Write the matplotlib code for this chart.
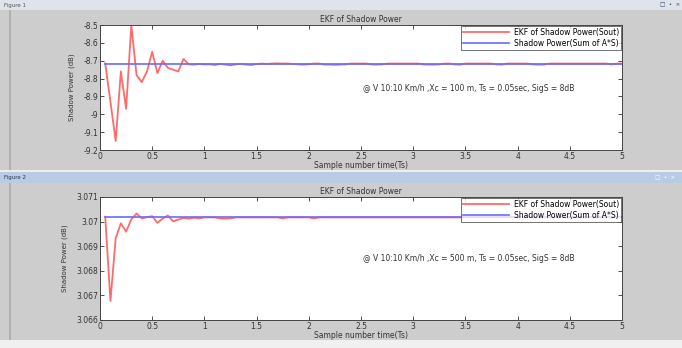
import numpy as np
import matplotlib
matplotlib.use("Agg")
import matplotlib.pyplot as plt
from matplotlib.patches import Rectangle

# DATA

Ts = 0.05
n_samples = 100

ekf_fig1 = [
    -8.715, -8.93, -9.15, -8.76, -8.97, -8.50, -8.78, -8.82, -8.76, -8.65,
    -8.77, -8.70, -8.74, -8.75, -8.76, -8.69, -8.72, -8.722, -8.718, -8.721,
    -8.720, -8.724, -8.718, -8.722, -8.726, -8.721, -8.718, -8.722, -8.724, -8.719,
    -8.716, -8.718, -8.716, -8.715, -8.716, -8.716, -8.718, -8.721, -8.722, -8.720,
    -8.716, -8.716, -8.722, -8.722, -8.723, -8.722, -8.721, -8.716, -8.716, -8.716,
    -8.716, -8.721, -8.722, -8.721, -8.716, -8.716, -8.716, -8.716, -8.716, -8.716,
    -8.716, -8.721, -8.722, -8.722, -8.721, -8.716, -8.716, -8.721, -8.722, -8.716,
    -8.716, -8.716, -8.716, -8.716, -8.716, -8.721, -8.722, -8.716, -8.716, -8.716,
    -8.716, -8.716, -8.721, -8.722, -8.722, -8.716, -8.716, -8.716, -8.716, -8.716,
    -8.716, -8.716, -8.716, -8.716, -8.716, -8.716, -8.716, -8.721, -8.716, -8.716,
]
shadow_fig1 = -8.716

ekf_fig2 = [
    3.07020, 3.06677, 3.06932, 3.06993, 3.06959, 3.07009, 3.07033, 3.07013, 3.07018, 3.07022,
    3.06995, 3.07012, 3.07025, 3.07001, 3.07008, 3.07015, 3.07012, 3.07016, 3.07013, 3.07017,
    3.07017, 3.07017, 3.07013, 3.07012, 3.07013, 3.07017, 3.07017, 3.07017, 3.07017, 3.07017,
    3.07017, 3.07017, 3.07017, 3.07017, 3.07013, 3.07017, 3.07017, 3.07017, 3.07017, 3.07017,
    3.07013, 3.07017, 3.07017, 3.07017, 3.07017, 3.07017, 3.07017, 3.07017, 3.07017, 3.07017,
    3.07017, 3.07017, 3.07017, 3.07017, 3.07017, 3.07017, 3.07017, 3.07017, 3.07017, 3.07017,
    3.07017, 3.07017, 3.07017, 3.07017, 3.07017, 3.07017, 3.07017, 3.07017, 3.07017, 3.07017,
    3.07017, 3.07017, 3.07017, 3.07017, 3.07017, 3.07017, 3.07017, 3.07017, 3.07017, 3.07017,
    3.07017, 3.07017, 3.07017, 3.07017, 3.07017, 3.07017, 3.07017, 3.07017, 3.07017, 3.07017,
    3.07017, 3.07017, 3.07017, 3.07017, 3.07017, 3.07017, 3.07017, 3.07017, 3.07017, 3.07017,
]
shadow_fig2 = 3.07017

yticks_fig1 = [-9.2, -9.1, -9.0, -8.9, -8.8, -8.7, -8.6, -8.5]
ytick_labels_fig1 = ['-9.2', '-9.1', '-9', '-8.9', '-8.8', '-8.7', '-8.6', '-8.5']
yticks_fig2 = [3.066, 3.067, 3.068, 3.069, 3.070, 3.071]
ytick_labels_fig2 = ['3.066', '3.067', '3.068', '3.069', '3.07', '3.071']
xticks = [0, 0.5, 1, 1.5, 2, 2.5, 3, 3.5, 4, 4.5, 5]
xtick_labels = ['0', '0.5', '1', '1.5', '2', '2.5', '3', '3.5', '4', '4.5', '5']

note_fig1 = '@ V 10:10 Km/h ,Xc = 100 m, Ts = 0.05sec, SigS = 8dB'
note_fig2 = '@ V 10:10 Km/h ,Xc = 500 m, Ts = 0.05sec, SigS = 8dB'

time = Ts * np.arange(1, n_samples + 1)

# FIGURE (two MATLAB windows stacked)

W, H = 682, 348
fig = plt.figure(figsize=(W / 100, H / 100), dpi=100)
fig.patch.set_facecolor('#cdcdcd')

def px_rect(x0, y0, x1, y1, color, z=0):
    fig.patches.append(Rectangle((x0 / W, 1 - y1 / H), (x1 - x0) / W, (y1 - y0) / H,
                                 transform=fig.transFigure, facecolor=color,
                                 edgecolor='none', zorder=z))

# window title bars and bottom strip
px_rect(0, 0, W, 10, '#dfe4ea')
px_rect(0, 170, W, 172, '#eeeeee')
px_rect(0, 172, W, 183, '#b9cce4')
px_rect(0, 340, W, H, '#f0f0f0')
px_rect(9, 10, 11, 170, '#b0b0b0')
px_rect(9, 183, 11, 340, '#b0b0b0')
fig.text(4 / W, 1 - 5 / H, 'Figure 1', fontsize=4, color='#555555', va='center')
fig.text(4 / W, 1 - 177.5 / H, 'Figure 2', fontsize=4, color='#223355', va='center')
fig.text(660 / W, 1 - 5 / H, '\u25a1  \u2022  \u00d7', fontsize=4, color='#334466', va='center')
fig.text(655 / W, 1 - 177.5 / H, '\u25a1  \u2022  \u00d7', fontsize=4, color='#ffffff', va='center')

ax1 = fig.add_axes([100 / W, 1 - 150 / H, 522 / W, 125 / H])
ax2 = fig.add_axes([100 / W, 1 - 320 / H, 522 / W, 123 / H])

panels = [
    (ax1, ekf_fig1, shadow_fig1, (-9.2, -8.5), yticks_fig1, ytick_labels_fig1, note_fig1, -8.853),
    (ax2, ekf_fig2, shadow_fig2, (3.066, 3.071), yticks_fig2, ytick_labels_fig2, note_fig2, 3.0685),
]

for ax, ekf, shadow, ylim, yt, ytl, note, note_y in panels:
    ax.plot(time, ekf, color='#ff6b6b', linewidth=1.3, label='EKF of Shadow Power(Sout)')
    ax.plot([time[0], time[-1]], [shadow, shadow], color='#6b6bff', linewidth=1.2,
            label='Shadow Power(Sum of A*S)')
    ax.set_xlim(0, 5)
    ax.set_ylim(*ylim)
    ax.set_xticks(xticks)
    ax.set_xticklabels(xtick_labels)
    ax.set_yticks(yt)
    ax.set_yticklabels(ytl)
    ax.tick_params(direction='in', length=3, width=0.6, labelsize=5.5, pad=1.5,
                   top=True, right=True, colors='#333333')
    for s in ax.spines.values():
        s.set_linewidth(0.7)
        s.set_color('#444444')
    ax.set_title('EKF of Shadow Power', fontsize=5.5, pad=2, color='#333333')
    ax.set_xlabel('Sample number time(Ts)', fontsize=5.5, labelpad=0, color='#333333')
    ax.set_ylabel('Shadow Power (dB)', fontsize=5, labelpad=6, color='#333333')
    ax.text(2.52, note_y, note, fontsize=5.5, color='#333333', va='center')
    leg = ax.legend(loc='upper right', fontsize=5.5, frameon=True, fancybox=False,
                    borderpad=0.3, handlelength=6, handletextpad=0.6, labelspacing=0.2,
                    borderaxespad=0.1)
    leg.get_frame().set_edgecolor('#333333')
    leg.get_frame().set_linewidth(0.6)

fig.savefig('out.png', dpi=100, facecolor=fig.get_facecolor())
